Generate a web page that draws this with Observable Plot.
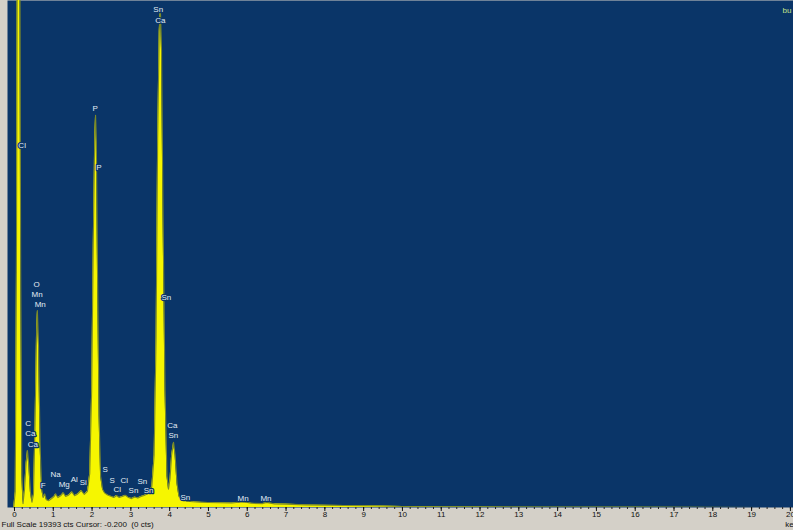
<!DOCTYPE html>
<html>
<head>
<meta charset="utf-8">
<script src="https://cdn.jsdelivr.net/npm/d3@7"></script>
<script src="https://cdn.jsdelivr.net/npm/@observablehq/plot@0.6"></script>
<style>
  body { margin: 0; background: #d4d0c8; }
  #chart svg { display: block; }
</style>
</head>
<body>
<div id="chart"></div>
<script>
// EDS spectrum: energy (keV) and counts per channel
const energy = [
  -0.18, -0.02, 0.02, 0.05, 0.08, 0.10, 0.13, 0.16, 0.19, 0.22,
  0.26, 0.30, 0.335, 0.37, 0.41, 0.45, 0.49, 0.53, 0.57, 0.59,
  0.62, 0.66, 0.70, 0.74, 0.78, 0.82, 0.88, 0.95, 1.02, 1.06,
  1.12, 1.20, 1.26, 1.32, 1.40, 1.48, 1.55, 1.63, 1.72, 1.80,
  1.88, 1.94, 1.99, 2.03, 2.07, 2.09, 2.11, 2.14, 2.18, 2.22,
  2.27, 2.32, 2.40, 2.48, 2.56, 2.63, 2.70, 2.78, 2.86, 2.94,
  3.02, 3.10, 3.18, 3.26, 3.34, 3.42, 3.48, 3.54, 3.60, 3.65,
  3.69, 3.73, 3.76, 3.79, 3.83, 3.88, 3.93, 3.97, 4.01, 4.05,
  4.10, 4.14, 4.19, 4.24, 4.32, 4.45, 4.6, 4.8, 5.0, 5.3,
  5.6, 5.9, 6.1, 6.4, 6.5, 6.7, 7.0, 7.5, 8.0, 8.5,
  9.0, 9.5, 10.0, 10.5, 11, 12, 14, 16, 18, 20.08
];
const counts = [
  0, 0, 600, 9000, 26000, 32000, 26000, 9000, 1200, 150,
  700, 1700, 2180, 1600, 600, 200, 500, 3200, 6800, 7530,
  6200, 2400, 700, 380, 520, 300, 260, 330, 420, 520,
  380, 460, 560, 420, 480, 600, 450, 520, 650, 500,
  620, 1300, 4500, 10000, 14300, 15000, 14000, 9000, 3500, 1200,
  700, 560, 480, 430, 380, 460, 380, 420, 470, 380,
  340, 400, 360, 420, 460, 520, 600, 800, 2000, 6500,
  14000, 18200, 19090, 17500, 11000, 4500, 1200, 700, 1100, 2000,
  2490, 2000, 900, 420, 300, 240, 220, 200, 190, 180,
  170, 220, 160, 150, 190, 140, 130, 100, 85, 75,
  70, 55, 40, 30, 20, 15, 10, 5, 3, 0
];

// Element line labels: text, energy (keV) of left edge, counts at label centre
const labelText = ["Sn", "Ca", "Cl", "P", "P", "O", "Mn", "Mn", "Sn",
  "C", "Ca", "Ca", "Ca", "Sn", "F", "Na", "Mg", "Al", "Si",
  "S", "S", "Cl", "Cl", "Sn", "Sn", "Sn", "Sn", "Mn", "Mn"];
const labelKeV = [3.58, 3.63, 0.10, 2.01, 2.11, 0.49, 0.44, 0.52, 3.79,
  0.28, 0.28, 0.34, 3.94, 3.97, 0.68, 0.93, 1.14, 1.45, 1.68,
  2.27, 2.45, 2.73, 2.55, 3.17, 2.94, 3.33, 4.28, 5.75, 6.34];
const labelCts = [19050, 18630, 13850, 15260, 13000, 8530, 8150, 7760, 8030,
  3210, 2830, 2410, 3130, 2750, 840, 1260, 880, 1070, 950,
  1450, 1030, 1030, 690, 990, 650, 650, 380, 340, 340];

const majorTicks = [0, 1, 2, 3, 4, 5, 6, 7, 8, 9, 10, 11, 12, 13, 14, 15, 16, 17, 18, 19, 20];
const minorTicks = d3.range(0, 20.01, 0.2);

const fullScale = 19393;
const caption = "Full Scale 19393 cts Cursor: -0.200  (0 cts)";

const spectrum = energy.map((e, i) => ({e, c: counts[i]}));
const labels = labelText.map((t, i) => ({t, e: labelKeV[i], c: labelCts[i]}));

const panel = "#0a3568";

const chart = Plot.plot({
  width: 793,
  height: 530,
  marginLeft: 7,
  marginRight: 0,
  marginTop: 0,
  marginBottom: 23,
  style: {fontFamily: "'Liberation Sans', Arial, sans-serif", background: "#d4d0c8", overflow: "hidden"},
  x: {domain: [-0.18, 20.08], label: null},
  y: {domain: [0, fullScale], axis: null},
  marks: [
    Plot.frame({fill: panel, stroke: null}),
    Plot.areaY(spectrum, {x: "e", y: "c", fill: "#f6f600", clip: true}),
    Plot.lineY(spectrum, {x: "e", y: "c", stroke: "#7c8a26", strokeWidth: 1.1, clip: true}),
    Plot.text(labels, {
      x: "e", y: "c", text: "t", textAnchor: "start",
      fill: "#e2ecf4", stroke: panel, strokeWidth: 2.5, fontSize: 8
    }),
    Plot.text(["bu"], {frameAnchor: "top-right", dx: -11, dy: 7, textAnchor: "start", fill: "#c4e48a", fontSize: 8}),
    Plot.axisX({ticks: minorTicks, tickSize: 2, stroke: "#222", text: null, label: null}),
    Plot.axisX({ticks: majorTicks, tickSize: 4, tickPadding: 0, fontSize: 8, fill: "#111", stroke: "#111", label: null}),
    Plot.text([caption], {frameAnchor: "bottom-left", dx: -6, dy: 19.5, textAnchor: "start", fill: "#111", fontSize: 8}),
    Plot.text(["keV"], {x: () => 19.87, frameAnchor: "bottom", dy: 19.5, textAnchor: "start", fill: "#111", fontSize: 8})
  ]
});
document.getElementById("chart").append(chart);
</script>
</body>
</html>
